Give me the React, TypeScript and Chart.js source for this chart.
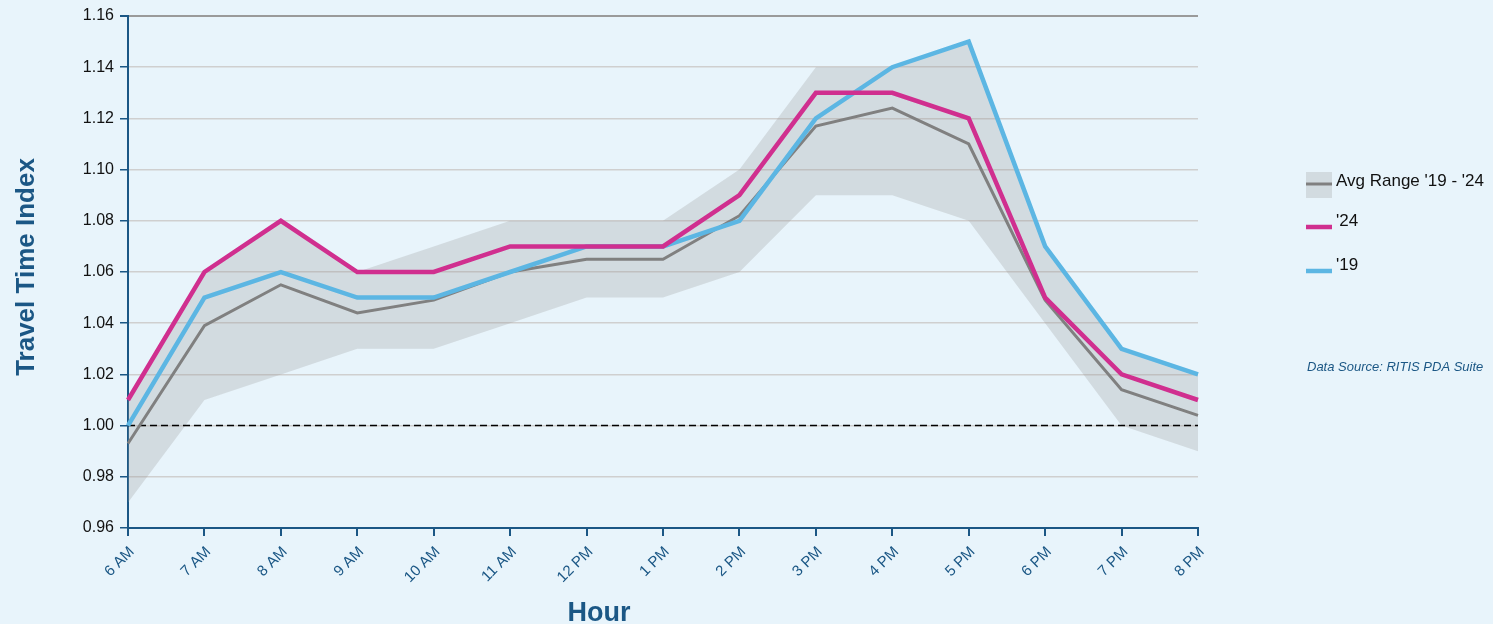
import React, { useEffect, useRef } from "react";
import { Chart, registerables } from "chart.js";

Chart.register(...registerables);

const hours = ["6 AM", "7 AM", "8 AM", "9 AM", "10 AM", "11 AM", "12 PM", "1 PM", "2 PM", "3 PM", "4 PM", "5 PM", "6 PM", "7 PM", "8 PM"];
const tti24 = [1.01, 1.06, 1.08, 1.06, 1.06, 1.07, 1.07, 1.07, 1.09, 1.13, 1.13, 1.12, 1.05, 1.02, 1.01];
const tti19 = [1.0, 1.05, 1.06, 1.05, 1.05, 1.06, 1.07, 1.07, 1.08, 1.12, 1.14, 1.15, 1.07, 1.03, 1.02];
const avgLine = [0.993, 1.039, 1.055, 1.044, 1.049, 1.06, 1.065, 1.065, 1.082, 1.117, 1.124, 1.11, 1.049, 1.014, 1.004];
const rangeHigh = [1.01, 1.06, 1.08, 1.06, 1.07, 1.08, 1.08, 1.08, 1.1, 1.14, 1.14, 1.15, 1.07, 1.03, 1.02];
const rangeLow = [0.97, 1.01, 1.02, 1.03, 1.03, 1.04, 1.05, 1.05, 1.06, 1.09, 1.09, 1.08, 1.04, 1.0, 0.99];
const referenceLevel = 1.0;
const yMin = 0.96;
const yMax = 1.16;
const yStep = 0.02;

const legendLabels = ["Avg Range '19 - '24", "'24", "'19"];
const yTitle = "Travel Time Index";
const xTitle = "Hour";
const sourceNote = "Data Source: RITIS PDA Suite";

const DARK_BLUE = "#1b5785";
const MAGENTA = "#d02f8f";
const SKY = "#5cb6e3";
const GRAY = "#808080";
const BAND = "rgba(150,150,150,0.27)";
const BG = "#e8f4fb";
const FONT = "'Liberation Sans', Arial, Helvetica, sans-serif";

const overlayPlugin = {
  id: "overlay",
  afterDraw(chart: any) {
    const { ctx, chartArea } = chart;
    ctx.save();
    // axis titles
    ctx.fillStyle = DARK_BLUE;
    ctx.font = `bold 27px ${FONT}`;
    ctx.textAlign = "center";
    ctx.textBaseline = "alphabetic";
    ctx.fillText(xTitle, chartArea.right / 2, 621);
    ctx.save();
    ctx.font = `bold 26px ${FONT}`;
    ctx.translate(34, chartArea.bottom / 2 + 3);
    ctx.rotate(-Math.PI / 2);
    ctx.fillText(yTitle, 0, 0);
    ctx.restore();

    // legend
    const lx = chartArea.right + 108;
    const baselines = [186, 226, 270];
    ctx.textAlign = "left";
    ctx.font = `17px ${FONT}`;
    legendLabels.forEach((label, i) => {
      const by = baselines[i];
      if (i === 0) {
        ctx.fillStyle = BAND;
        ctx.fillRect(lx, by - 14, 26, 26);
        ctx.strokeStyle = GRAY;
        ctx.lineWidth = 3;
        ctx.beginPath();
        ctx.moveTo(lx, by - 2);
        ctx.lineTo(lx + 26, by - 2);
        ctx.stroke();
      } else {
        ctx.strokeStyle = i === 1 ? MAGENTA : SKY;
        ctx.lineWidth = 4.5;
        ctx.beginPath();
        ctx.moveTo(lx, by + 1);
        ctx.lineTo(lx + 26, by + 1);
        ctx.stroke();
      }
      ctx.fillStyle = "#111111";
      ctx.fillText(label, lx + 30, by);
    });

    // source note
    ctx.font = `italic 13px ${FONT}`;
    ctx.fillStyle = DARK_BLUE;
    ctx.fillText(sourceNote, lx + 1, 371);
    ctx.restore();
  },
};

export default function App() {
  const canvasRef = useRef<HTMLCanvasElement | null>(null);

  useEffect(() => {
    document.body.style.margin = "0";
    const canvas = canvasRef.current;
    if (!canvas) return;
    Chart.defaults.font.family = FONT;
    const chart = new Chart(canvas, {
      type: "line",
      data: {
        labels: hours,
        datasets: [
          {
            label: "'24",
            data: tti24,
            borderColor: MAGENTA,
            borderWidth: 4.5,
            pointRadius: 0,
            fill: false,
            tension: 0,
            order: 0,
          },
          {
            label: "'19",
            data: tti19,
            borderColor: SKY,
            borderWidth: 4.5,
            pointRadius: 0,
            fill: false,
            tension: 0,
            order: 1,
          },
          {
            label: "Avg",
            data: avgLine,
            borderColor: GRAY,
            borderWidth: 3,
            pointRadius: 0,
            fill: false,
            tension: 0,
            order: 2,
          },
          {
            label: "Reference",
            data: hours.map(() => referenceLevel),
            borderColor: "#000000",
            borderWidth: 1.5,
            borderDash: [7, 4],
            pointRadius: 0,
            fill: false,
            order: 3,
          },
          {
            label: "Range high",
            data: rangeHigh,
            borderWidth: 0,
            borderColor: "rgba(0,0,0,0)",
            backgroundColor: BAND,
            pointRadius: 0,
            fill: "+1",
            tension: 0,
            order: 4,
          },
          {
            label: "Range low",
            data: rangeLow,
            borderWidth: 0,
            borderColor: "rgba(0,0,0,0)",
            pointRadius: 0,
            fill: false,
            tension: 0,
            order: 5,
          },
        ],
      },
      options: {
        animation: false,
        responsive: false,
        maintainAspectRatio: false,
        events: [],
        layout: { padding: { top: 16, right: 295, left: 0, bottom: 0 } },
        plugins: {
          legend: { display: false },
          tooltip: { enabled: false },
          title: { display: false },
        },
        scales: {
          x: {
            afterFit: (s: any) => {
              s.height = 96;
            },
            offset: false,
            grid: {
              drawOnChartArea: false,
              drawTicks: true,
              tickLength: 8,
              color: DARK_BLUE,
              lineWidth: 2,
            },
            border: { display: true, color: DARK_BLUE, width: 2 },
            ticks: {
              autoSkip: false,
              maxRotation: 45,
              minRotation: 45,
              color: DARK_BLUE,
              font: { size: 15, family: FONT },
              padding: 7,
              labelOffset: 4,
            },
          },
          y: {
            afterFit: (s: any) => {
              s.width = 128;
            },
            min: yMin,
            max: yMax,
            grid: {
              color: (c: any) => (c.tick && Math.abs(c.tick.value - yMax) < 1e-6 ? "#9a9a9a" : "#cfcfcf"),
              lineWidth: (c: any) => (c.tick && Math.abs(c.tick.value - yMax) < 1e-6 ? 2 : 1.5),
              tickColor: DARK_BLUE,
              tickLength: 8,
              drawTicks: true,
            },
            border: { display: true, color: DARK_BLUE, width: 2 },
            ticks: {
              stepSize: yStep,
              color: "#111111",
              font: { size: 16, family: FONT },
              padding: 6,
              callback: (v: any) => Number(v).toFixed(2),
            },
          },
        },
      },
      plugins: [overlayPlugin],
    });
    return () => chart.destroy();
  }, []);

  return (
    <div style={{ position: "absolute", left: 0, top: 0, width: 1493, height: 624, background: BG }}>
      <canvas ref={canvasRef} width={1493} height={624} style={{ display: "block", width: 1493, height: 624 }} />
    </div>
  );
}
